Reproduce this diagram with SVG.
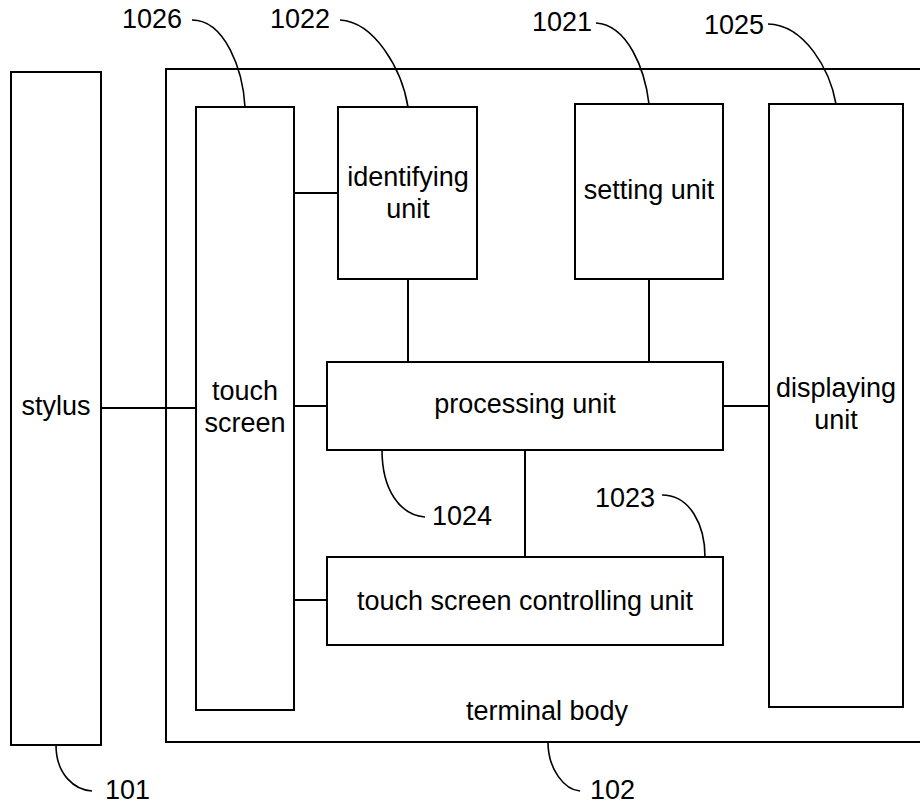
<svg xmlns="http://www.w3.org/2000/svg" width="920" height="808" viewBox="0 0 920 808">
<style>
.box{fill:none;stroke:#000;stroke-width:2}
.ln{fill:none;stroke:#000;stroke-width:2}
.ld{fill:none;stroke:#000;stroke-width:1.6}
text{font-family:"Liberation Sans",Arial,sans-serif;font-size:27px;fill:#000}
.c{text-anchor:middle}
</style>
<rect width="920" height="808" fill="#fff"/>
<g id="terminal-body"><rect class="box" x="166" y="69" width="770" height="673"/><text class="c" x="547" y="720">terminal body</text></g>
<g id="stylus"><rect class="box" x="11" y="72" width="90" height="673"/><text class="c" x="56" y="415">stylus</text></g>
<g id="touch-screen"><rect class="box" x="196" y="107" width="98" height="603"/><text class="c" x="245" y="400">touch</text><text class="c" x="245" y="432">screen</text></g>
<g id="identifying-unit"><rect class="box" x="338" y="107" width="139" height="172"/><text class="c" x="408" y="186">identifying</text><text class="c" x="408" y="218">unit</text></g>
<g id="setting-unit"><rect class="box" x="575" y="104" width="148" height="175"/><text class="c" x="649" y="199">setting unit</text></g>
<g id="displaying-unit"><rect class="box" x="769" y="104" width="134" height="603"/><text class="c" x="836" y="397">displaying</text><text class="c" x="836" y="429">unit</text></g>
<g id="processing-unit"><rect class="box" x="327" y="362" width="396" height="88"/><text class="c" x="525" y="413">processing unit</text></g>
<g id="touch-screen-controlling-unit"><rect class="box" x="327" y="557" width="396" height="88"/><text class="c" x="525" y="610">touch screen controlling unit</text></g>
<g id="connectors">
<line class="ln" x1="101" y1="408" x2="196" y2="408"/>
<line class="ln" x1="294" y1="193" x2="338" y2="193"/>
<line class="ln" x1="408" y1="279" x2="408" y2="362"/>
<line class="ln" x1="649" y1="279" x2="649" y2="362"/>
<line class="ln" x1="294" y1="406" x2="327" y2="406"/>
<line class="ln" x1="723" y1="406" x2="769" y2="406"/>
<line class="ln" x1="525" y1="450" x2="525" y2="557"/>
<line class="ln" x1="294" y1="600" x2="327" y2="600"/>
</g>
<g id="leaders">
<path class="ld" d="M192,20 C225,20 243,70 245,107"/>
<path class="ld" d="M340,20 C375,22 402,70 408,107"/>
<path class="ld" d="M596,23 C628,25 645,70 649,104"/>
<path class="ld" d="M768,24 C805,25 830,70 836,104"/>
<path class="ld" d="M382,450 C382,490 400,515 425,517"/>
<path class="ld" d="M662,495 C690,495 705,525 705,557"/>
<path class="ld" d="M56,745 C56,775 75,790 92,791"/>
<path class="ld" d="M548,742 C548,770 565,790 580,791"/>
<text x="122" y="28">1026</text>
<text x="270" y="28">1022</text>
<text x="532" y="31">1021</text>
<text x="704" y="34">1025</text>
<text x="432" y="525">1024</text>
<text x="595" y="507">1023</text>
<text x="105" y="799">101</text>
<text x="590" y="799">102</text>
</g>
</svg>
